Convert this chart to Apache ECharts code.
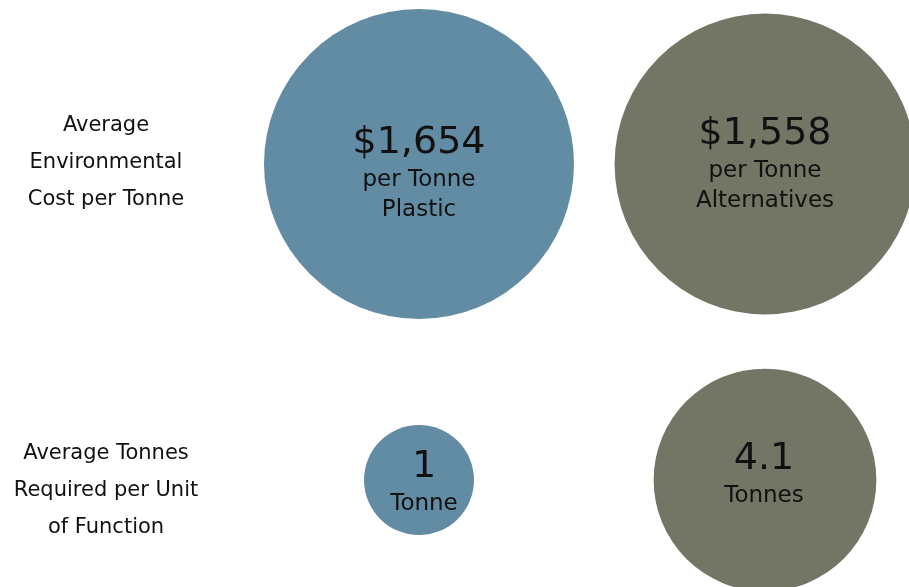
<!DOCTYPE html>
<html><head><meta charset="utf-8">
<script src="https://cdn.jsdelivr.net/npm/echarts@6/dist/echarts.min.js"></script>
<style>html,body{margin:0;padding:0;background:#fff}#c{width:909px;height:587px}</style>
</head><body><div id="c"></div>
<script>
const materials = ["Plastic", "Alternatives"];
const rowLabels = ["Average\nEnvironmental\nCost per Tonne", "Average Tonnes\nRequired per Unit\nof Function"];
const costValues = [1654, 1558];
const costText = ["$1,654", "$1,558"];
const costSub = ["per Tonne\nPlastic", "per Tonne\nAlternatives"];
const tonneValues = [1, 4.1];
const tonneText = ["1", "4.1"];
const tonneSub = ["Tonne", "Tonnes"];

const colors = ["#628ca4", "#737565"];
const rowScale = [310 / Math.sqrt(1654), 110 / Math.sqrt(1)];
const labelOffsets = [[[0, 9], [0, 0]], [[5, 2], [-1, -6]]];

const rows = [
  {vals: costValues, txt: costText, sub: costSub},
  {vals: tonneValues, txt: tonneText, sub: tonneSub}
];
const data = [];
rows.forEach((r, ri) => {
  r.vals.forEach((v, ci) => {
    data.push({
      value: [materials[ci], rowLabels[ri], v],
      symbolSize: rowScale[ri] * Math.sqrt(v),
      itemStyle: {color: colors[ci], opacity: 1},
      label: {
        offset: labelOffsets[ri][ci],
        formatter: '{big|' + r.txt[ci] + '}\n{small|' + r.sub[ci].split('\n').join('}\n{small|') + '}'
      }
    });
  });
});

const chart = echarts.init(document.getElementById('c'));
chart.setOption({
  animation: false,
  grid: [
    {left: 419, right: 144, top: 164, bottom: 107, outerBoundsMode: 'none'},
    {left: 419, right: 144, top: 163, bottom: 96, outerBoundsMode: 'none'}
  ],
  xAxis: [
    {type: 'category', data: materials, boundaryGap: false, show: false, gridIndex: 0},
    {type: 'category', data: materials, boundaryGap: false, show: false, gridIndex: 1}
  ],
  yAxis: [
    {type: 'category', data: rowLabels, boundaryGap: false, inverse: true, show: false, gridIndex: 0},
    {
      type: 'category', data: rowLabels, boundaryGap: false, inverse: true, gridIndex: 1,
      axisLine: {show: false}, axisTick: {show: false}, splitLine: {show: false},
      axisLabel: {align: 'center', margin: 313, fontFamily: 'DejaVu Sans', fontSize: 21, lineHeight: 37, color: '#111'}
    }
  ],
  series: [{
    type: 'scatter',
    symbol: 'circle',
    xAxisIndex: 0, yAxisIndex: 0,
    data: data,
    label: {
      show: true, position: 'inside', color: '#000', fontFamily: 'DejaVu Sans',
      rich: {
        big: {fontSize: 38, lineHeight: 44, fontFamily: 'DejaVu Sans', color: '#111'},
        small: {fontSize: 23, lineHeight: 30, fontFamily: 'DejaVu Sans', color: '#111'}
      }
    }
  }]
});
</script></body></html>
